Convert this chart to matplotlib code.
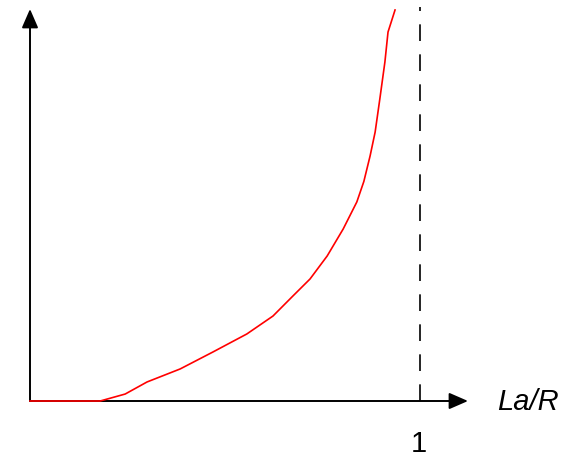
import numpy as np
import matplotlib.pyplot as plt

# curve (x in units of La/R, y arbitrary)
curve_x = [0.0, 0.180, 0.244, 0.300, 0.385, 0.469, 0.556, 0.623, 0.674, 0.718,
           0.762, 0.803, 0.838, 0.856, 0.872, 0.885, 0.897, 0.910, 0.918, 0.936]
curve_y = [0.0, 0.0, 0.071, 0.194, 0.327, 0.500, 0.684, 0.867, 1.071, 1.245,
           1.480, 1.755, 2.031, 2.240, 2.500, 2.745, 3.082, 3.459, 3.765, 3.990]
asymptote_x = 1.0
x_label = "La/R"
tick_label = "1"

fig = plt.figure(figsize=(5.74, 4.6), dpi=100)
ax = fig.add_axes([0, 0, 1, 1])
ax.set_xlim(-30 / 390, 544 / 390)
ax.set_ylim(-58 / 98, 402 / 98)
ax.axis("off")

arrow = dict(arrowstyle="-|>,head_length=1.15,head_width=0.5", color="black",
             lw=1.4, shrinkA=0, shrinkB=0, mutation_scale=10)
# x axis
ax.annotate("", xy=(438 / 390, 0), xytext=(0, 0), arrowprops=arrow)
# y axis
ax.annotate("", xy=(0, 392 / 98), xytext=(0, 0), arrowprops=arrow)

# dashed asymptote at La/R = 1
ax.plot([asymptote_x, asymptote_x], [0, 4.02], color="black", lw=1.2,
        dashes=(10, 8))

ax.plot(curve_x, curve_y, color="red", lw=1.2, zorder=4)

ax.text(467 / 390, 0, x_label, fontsize=21, style="italic",
        family="Liberation Sans", ha="left", va="center")
ax.text(asymptote_x - 1 / 390, -42 / 98, tick_label, fontsize=21,
        family="Liberation Sans", ha="center", va="center")

fig.savefig("out.png", dpi=100)
